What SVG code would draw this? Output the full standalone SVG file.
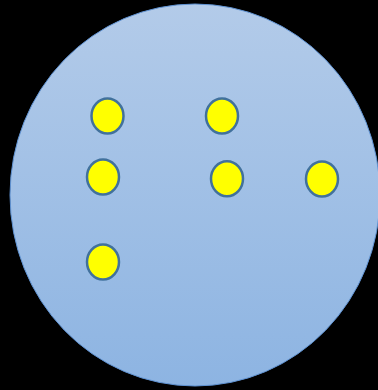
<svg xmlns="http://www.w3.org/2000/svg" width="378" height="390" viewBox="0 0 378 390">
<defs>
<linearGradient id="bg" x1="0" y1="0" x2="0" y2="1">
<stop offset="0" stop-color="#b3cbe9"/>
<stop offset="1" stop-color="#8db4e2"/>
</linearGradient>
<style>
.dot{fill:#ffff00;stroke:#41719c;stroke-width:2.5}
</style>
</defs>
<rect x="0" y="0" width="378" height="390" fill="#000"/>
<g id="field">
<ellipse cx="195" cy="195" rx="185" ry="191" fill="url(#bg)" stroke="#5f92d2" stroke-width="1"/>
</g>
<g id="n1"><ellipse class="dot" cx="107.5" cy="116" rx="16" ry="17.5"/></g>
<g id="n2"><ellipse class="dot" cx="222" cy="116" rx="16" ry="17.5"/></g>
<g id="n3"><ellipse class="dot" cx="103" cy="177" rx="16" ry="17.5"/></g>
<g id="n4"><ellipse class="dot" cx="227" cy="178.7" rx="16" ry="17.5"/></g>
<g id="n5"><ellipse class="dot" cx="322" cy="179" rx="16" ry="17.5"/></g>
<g id="n6"><ellipse class="dot" cx="103" cy="262" rx="16" ry="17.5"/></g>
<g id="connectors"></g>
</svg>
